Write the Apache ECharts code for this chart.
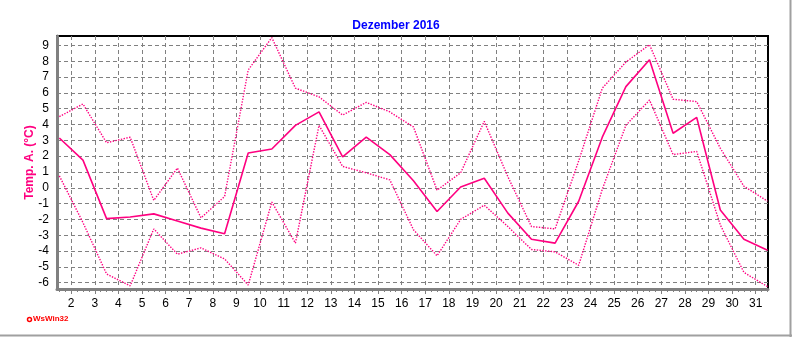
<!DOCTYPE html>
<html>
<head>
<meta charset="utf-8">
<title>Dezember 2016</title>
<script src="https://cdn.jsdelivr.net/npm/echarts@6/dist/echarts.min.js"></script>
<style>
  html, body { margin: 0; padding: 0; background: #fff; }
  #chart { width: 792px; height: 337px; }
</style>
</head>
<body>
<div id="chart"></div>
<script>
// Temp. A. Dezember 2016 - Tageswerte (max / mittel / min)
const days = [1, 2, 3, 4, 5, 6, 7, 8, 9, 10, 11, 12, 13, 14, 15, 16, 17, 18, 19, 20, 21, 22, 23, 24, 25, 26, 27, 28, 29, 30, 31];
const tempMax = [4.5, 5.3, 2.85, 3.2, -0.8, 1.25, -1.9, -0.55, 7.45, 9.5, 6.3, 5.75, 4.6, 5.4, 4.8, 3.85, -0.15, 0.95, 4.2, 0.7, -2.45, -2.6, 1.7, 6.3, 7.95, 9.05, 5.6, 5.45, 2.5, 0.1, -0.85];
const tempMean = [3.15, 1.75, -1.95, -1.85, -1.65, -2.1, -2.55, -2.9, 2.2, 2.45, 3.95, 4.8, 1.95, 3.2, 2.1, 0.45, -1.5, 0.05, 0.6, -1.6, -3.25, -3.5, -0.85, 3.2, 6.4, 8.1, 3.45, 4.45, -1.4, -3.25, -3.95];
const tempMin = [0.75, -2.2, -5.45, -6.2, -2.6, -4.2, -3.8, -4.5, -6.15, -0.9, -3.5, 3.95, 1.35, 0.95, 0.5, -2.65, -4.3, -2.0, -1.1, -2.45, -3.9, -4.05, -4.9, -0.1, 3.95, 5.55, 2.1, 2.3, -2.35, -5.35, -6.25];
const xTickLabels = [2, 3, 4, 5, 6, 7, 8, 9, 10, 11, 12, 13, 14, 15, 16, 17, 18, 19, 20, 21, 22, 23, 24, 25, 26, 27, 28, 29, 30, 31];
const yTickLabels = [-6, -5, -4, -3, -2, -1, 0, 1, 2, 3, 4, 5, 6, 7, 8, 9];

const lineColor = '#ff0080';
const gridColor = '#808080';
const font = '"Liberation Sans", Arial, sans-serif';

// Tageswerte liegen jeweils in der Tagesmitte
function toPoints(values) {
  return days.map((d, i) => [d + 0.5, values[i]]);
}

// kleine Striche (Viertel-Tage) an der x-Achse
const minorTicks = [];
for (let t = 1.5; t <= 31.5; t += 0.25) {
  minorTicks.push(t);
}

const chart = echarts.init(document.getElementById('chart'), null, { renderer: 'canvas' });

chart.setOption({
  animation: false,
  backgroundColor: '#fff',
  title: {
    text: 'Dezember 2016',
    left: 'center',
    top: 15,
    textStyle: { color: '#0000ff', fontWeight: 'bold', fontSize: 12, fontFamily: font }
  },
  grid: {
    left: 57,
    right: 24,
    top: 36,
    bottom: 48,
    show: true,
    borderColor: '#000',
    borderWidth: 2,
    backgroundColor: 'transparent'
  },
  xAxis: [{
    type: 'value',
    min: 1.4,
    max: 31.52,
    position: 'bottom',
    axisLine: { onZero: false, lineStyle: { color: gridColor, width: 3 } },
    axisTick: { customValues: xTickLabels, length: 5, lineStyle: { color: gridColor, width: 1 } },
    axisLabel: { customValues: xTickLabels, color: '#000', fontSize: 12, fontFamily: font, margin: 9 },
    splitLine: { show: true, lineStyle: { color: gridColor, width: 1, type: [4, 3] } }
  }, {
    type: 'value',
    min: 1.4,
    max: 31.52,
    position: 'bottom',
    axisLine: { show: false, onZero: false },
    axisTick: { customValues: minorTicks, length: 3, lineStyle: { color: gridColor, width: 1 } },
    axisLabel: { show: false },
    splitLine: { show: false }
  }],
  yAxis: {
    type: 'value',
    min: -6.4,
    max: 9.6,
    name: 'Temp. A. (°C)',
    nameLocation: 'middle',
    nameGap: 21,
    nameMoveOverlap: false,
    nameTextStyle: { color: lineColor, fontWeight: 'bold', fontSize: 12, fontFamily: font },
    axisLine: { show: true, onZero: false, lineStyle: { color: gridColor, width: 3 } },
    axisTick: { show: false, customValues: yTickLabels },
    axisLabel: { customValues: yTickLabels, color: '#000', fontSize: 12, fontFamily: font, margin: 8 },
    splitLine: { show: true, lineStyle: { color: gridColor, width: 1, type: [4, 3] } }
  },
  series: [{
    name: 'Max',
    type: 'line',
    data: toPoints(tempMax),
    showSymbol: false,
    lineStyle: { color: lineColor, width: 1.4, type: [1.4, 1.4] }
  }, {
    name: 'Mittel',
    type: 'line',
    data: toPoints(tempMean),
    showSymbol: false,
    lineStyle: { color: lineColor, width: 1.6 }
  }, {
    name: 'Min',
    type: 'line',
    data: toPoints(tempMin),
    showSymbol: false,
    lineStyle: { color: lineColor, width: 1.4, type: [1.4, 1.4] }
  }],
  graphic: [
    // Rahmen rechts und unten
    { type: 'line', shape: { x1: 790.5, y1: 0, x2: 790.5, y2: 337 }, style: { stroke: '#a0a0a0', lineWidth: 2 } },
    { type: 'line', shape: { x1: 0, y1: 335.5, x2: 792, y2: 335.5 }, style: { stroke: '#a0a0a0', lineWidth: 2 } },
    // Logo
    { type: 'circle', shape: { cx: 29.5, cy: 319.5, r: 2 }, style: { fill: '#fff', stroke: '#ff0000', lineWidth: 1.5 } },
    { type: 'text', left: 33, top: 315, style: { text: 'WsWin32', fill: '#ff0000', font: 'bold 8px ' + font } }
  ]
});
</script>
</body>
</html>
